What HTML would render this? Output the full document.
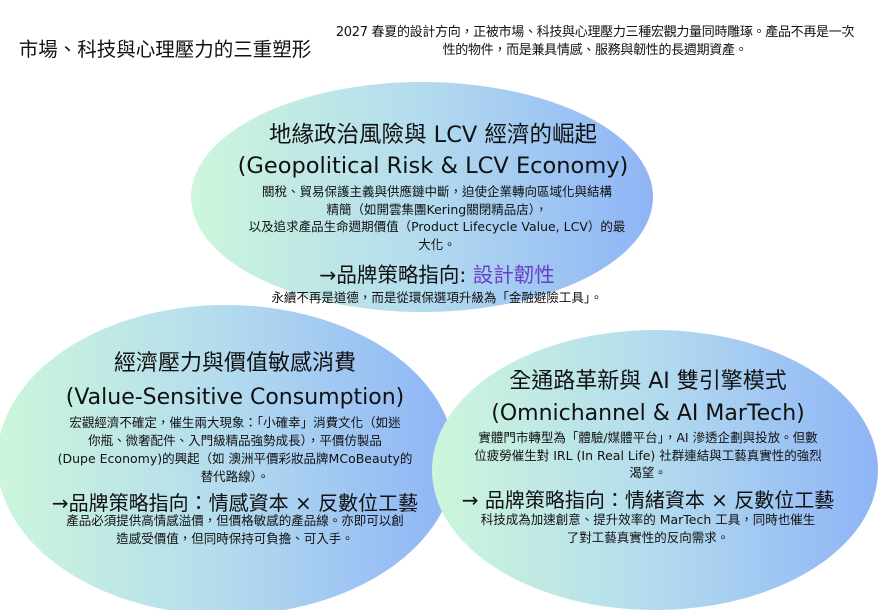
<!DOCTYPE html>
<html><head><meta charset="utf-8">
<style>
body{margin:0;width:885px;height:610px;overflow:hidden;background:#fff;position:relative;font-family:"DejaVu Sans","Noto Sans CJK TC",sans-serif;color:#111}
.t{position:absolute;text-align:center;white-space:nowrap;transform:translateX(-50%)}
svg{position:absolute;left:0;top:0}
</style></head><body>
<svg width="885" height="610">
<defs>
<linearGradient id="g" x1="0" x2="1" y1="0" y2="0">
<stop offset="0" stop-color="#cdf6dc"/><stop offset="0.5" stop-color="#b3dbee"/><stop offset="1" stop-color="#8eb4f6"/>
</linearGradient>
</defs>
<ellipse cx="422" cy="197" rx="231" ry="115" fill="url(#g)"/>
<ellipse cx="226" cy="460" rx="229" ry="155" fill="url(#g)"/>
<ellipse cx="655" cy="470" rx="223" ry="140" fill="url(#g)"/>
</svg>
<div class="t" style="left:165px;top:33px;font-size:19.5px">市場、科技與心理壓力的三重塑形</div>
<div class="t" style="left:595px;top:24px;font-size:13px;line-height:18px;letter-spacing:-0.3px">2027 春夏的設計方向，正被市場、科技與心理壓力三種宏觀力量同時雕琢。產品不再是一次<br>性的物件，而是兼具情感、服務與韌性的長週期資產。</div>

<div class="t" style="left:433px;top:120px;font-size:22.5px;line-height:31px">地緣政治風險與 LCV 經濟的崛起<br>(Geopolitical Risk &amp; LCV Economy)</div>
<div class="t" style="left:437px;top:183px;font-size:12.5px;line-height:17.5px">關稅、貿易保護主義與供應鏈中斷，迫使企業轉向區域化與結構<br>精簡（如開雲集團Kering關閉精品店），<br>以及追求產品生命週期價值（Product Lifecycle Value, LCV）的最<br>大化。</div>
<div class="t" style="left:437px;top:258px;font-size:20.5px">→品牌策略指向: <span style="color:#6a3fc8">設計韌性</span></div>
<div class="t" style="left:437px;top:287px;font-size:12.5px">永續不再是道德，而是從環保選項升級為「金融避險工具」。</div>

<div class="t" style="left:235px;top:347px;font-size:22px;line-height:34px">經濟壓力與價值敏感消費<br>(Value-Sensitive Consumption)</div>
<div class="t" style="left:235px;top:414px;font-size:12.5px;line-height:18px">宏觀經濟不確定，催生兩大現象：「小確幸」消費文化（如迷<br>你瓶、微奢配件、入門級精品強勢成長），平價仿製品<br>(Dupe Economy)的興起（如 澳洲平價彩妝品牌MCoBeauty的<br>替代路線）。</div>
<div class="t" style="left:235px;top:487px;font-size:20px">→品牌策略指向：情感資本 × 反數位工藝</div>
<div class="t" style="left:235px;top:512px;font-size:12.5px;line-height:18px">產品必須提供高情感溢價，但價格敏感的產品線。亦即可以創<br>造感受價值，但同時保持可負擔、可入手。</div>

<div class="t" style="left:648px;top:366px;font-size:22px;line-height:32px">全通路革新與 AI 雙引擎模式<br>(Omnichannel &amp; AI MarTech)</div>
<div class="t" style="left:648px;top:429px;font-size:12.5px;line-height:17.5px">實體門市轉型為「體驗/媒體平台」，AI 滲透企劃與投放。但數<br>位疲勞催生對 IRL (In Real Life) 社群連結與工藝真實性的強烈<br>渴望。</div>
<div class="t" style="left:648px;top:484px;font-size:20px">→ 品牌策略指向：情緒資本 × 反數位工藝</div>
<div class="t" style="left:648px;top:511px;font-size:12.5px;line-height:18px">科技成為加速創意、提升效率的 MarTech 工具，同時也催生<br>了對工藝真實性的反向需求。</div>
</body></html>
